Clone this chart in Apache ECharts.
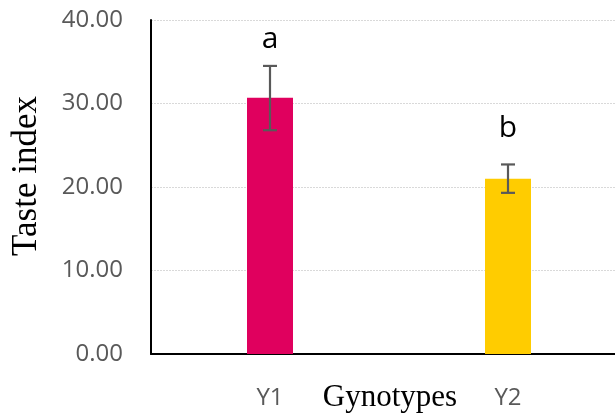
<!DOCTYPE html>
<html>
<head>
<meta charset="utf-8">
<script src="https://cdn.jsdelivr.net/npm/echarts@6/dist/echarts.min.js"></script>
<style>
html,body{margin:0;padding:0;background:#fff;}
#chart{width:615px;height:416px;}
</style>
</head>
<body>
<div id="chart"></div>
<script>
var categories = ['Y1', 'Y2'];
var means = [30.7, 21.0];
var errLow = [26.8, 19.3];
var errHigh = [34.5, 22.7];
var letters = ['a', 'b'];
var letterPos = [37.7, 27.0];
var barColors = ['#E0005E', '#FFCC00'];
var yTicks = [0, 10, 20, 30, 40];

var chart = echarts.init(document.getElementById('chart'), null, {renderer: 'canvas'});

var errData = categories.map(function (c, i) { return [i, errLow[i], errHigh[i], letterPos[i]]; });

chart.setOption({
  animation: false,
  backgroundColor: '#ffffff',
  grid: {left: 151, top: 20, width: 476, height: 334, containLabel: false, outerBoundsMode: 'none'},
  xAxis: {
    type: 'category',
    data: categories,
    axisLine: {show: true, lineStyle: {color: '#000', width: 2}},
    axisTick: {show: false},
    axisLabel: {color: '#595959', fontFamily: 'Open Sans', fontSize: 24, margin: 32}
  },
  yAxis: {
    type: 'value',
    min: yTicks[0],
    max: yTicks[yTicks.length - 1],
    interval: 10,
    axisLine: {show: true, lineStyle: {color: '#000', width: 2}},
    axisTick: {show: false},
    axisLabel: {
      color: '#595959', fontFamily: 'Open Sans', fontSize: 24, margin: 28,
      formatter: function (v) { return v.toFixed(2); }
    },
    splitLine: {show: true, lineStyle: {color: '#d9d9d9', width: 1, type: [2, 1]}}
  },
  graphic: [{
    type: 'text',
    x: 27, y: 176,
    rotation: Math.PI / 2,
    style: {
      text: 'Taste index',
      fill: '#000',
      font: '35px "Liberation Serif"',
      textAlign: 'center',
      textVerticalAlign: 'middle'
    }
  }, {
    type: 'text',
    x: 390, y: 398,
    style: {
      text: 'Gynotypes',
      fill: '#000',
      font: '31px "Liberation Serif"',
      textAlign: 'center',
      textVerticalAlign: 'middle'
    }
  }],
  series: [{
    type: 'bar',
    barWidth: 46,
    data: means.map(function (v, i) { return {value: v, itemStyle: {color: barColors[i]}}; })
  }, {
    type: 'custom',
    data: errData,
    z: 10,
    renderItem: function (params, api) {
      var i = api.value(0);
      var lo = api.coord([i, api.value(1)]);
      var hi = api.coord([i, api.value(2)]);
      var lt = api.coord([i, api.value(3)]);
      var hw = 7;
      var st = {stroke: '#595959', lineWidth: 2.2};
      return {
        type: 'group',
        children: [
          {type: 'line', shape: {x1: hi[0], y1: hi[1], x2: lo[0], y2: lo[1]}, style: st},
          {type: 'line', shape: {x1: hi[0] - hw, y1: hi[1], x2: hi[0] + hw, y2: hi[1]}, style: st},
          {type: 'line', shape: {x1: lo[0] - hw, y1: lo[1], x2: lo[0] + hw, y2: lo[1]}, style: st},
          {type: 'text', x: lt[0], y: lt[1], style: {
            text: letters[params.dataIndex], fill: '#000',
            font: '30px "Open Sans"', textAlign: 'center', textVerticalAlign: 'middle'
          }}
        ]
      };
    }
  }]
});
</script>
</body>
</html>
